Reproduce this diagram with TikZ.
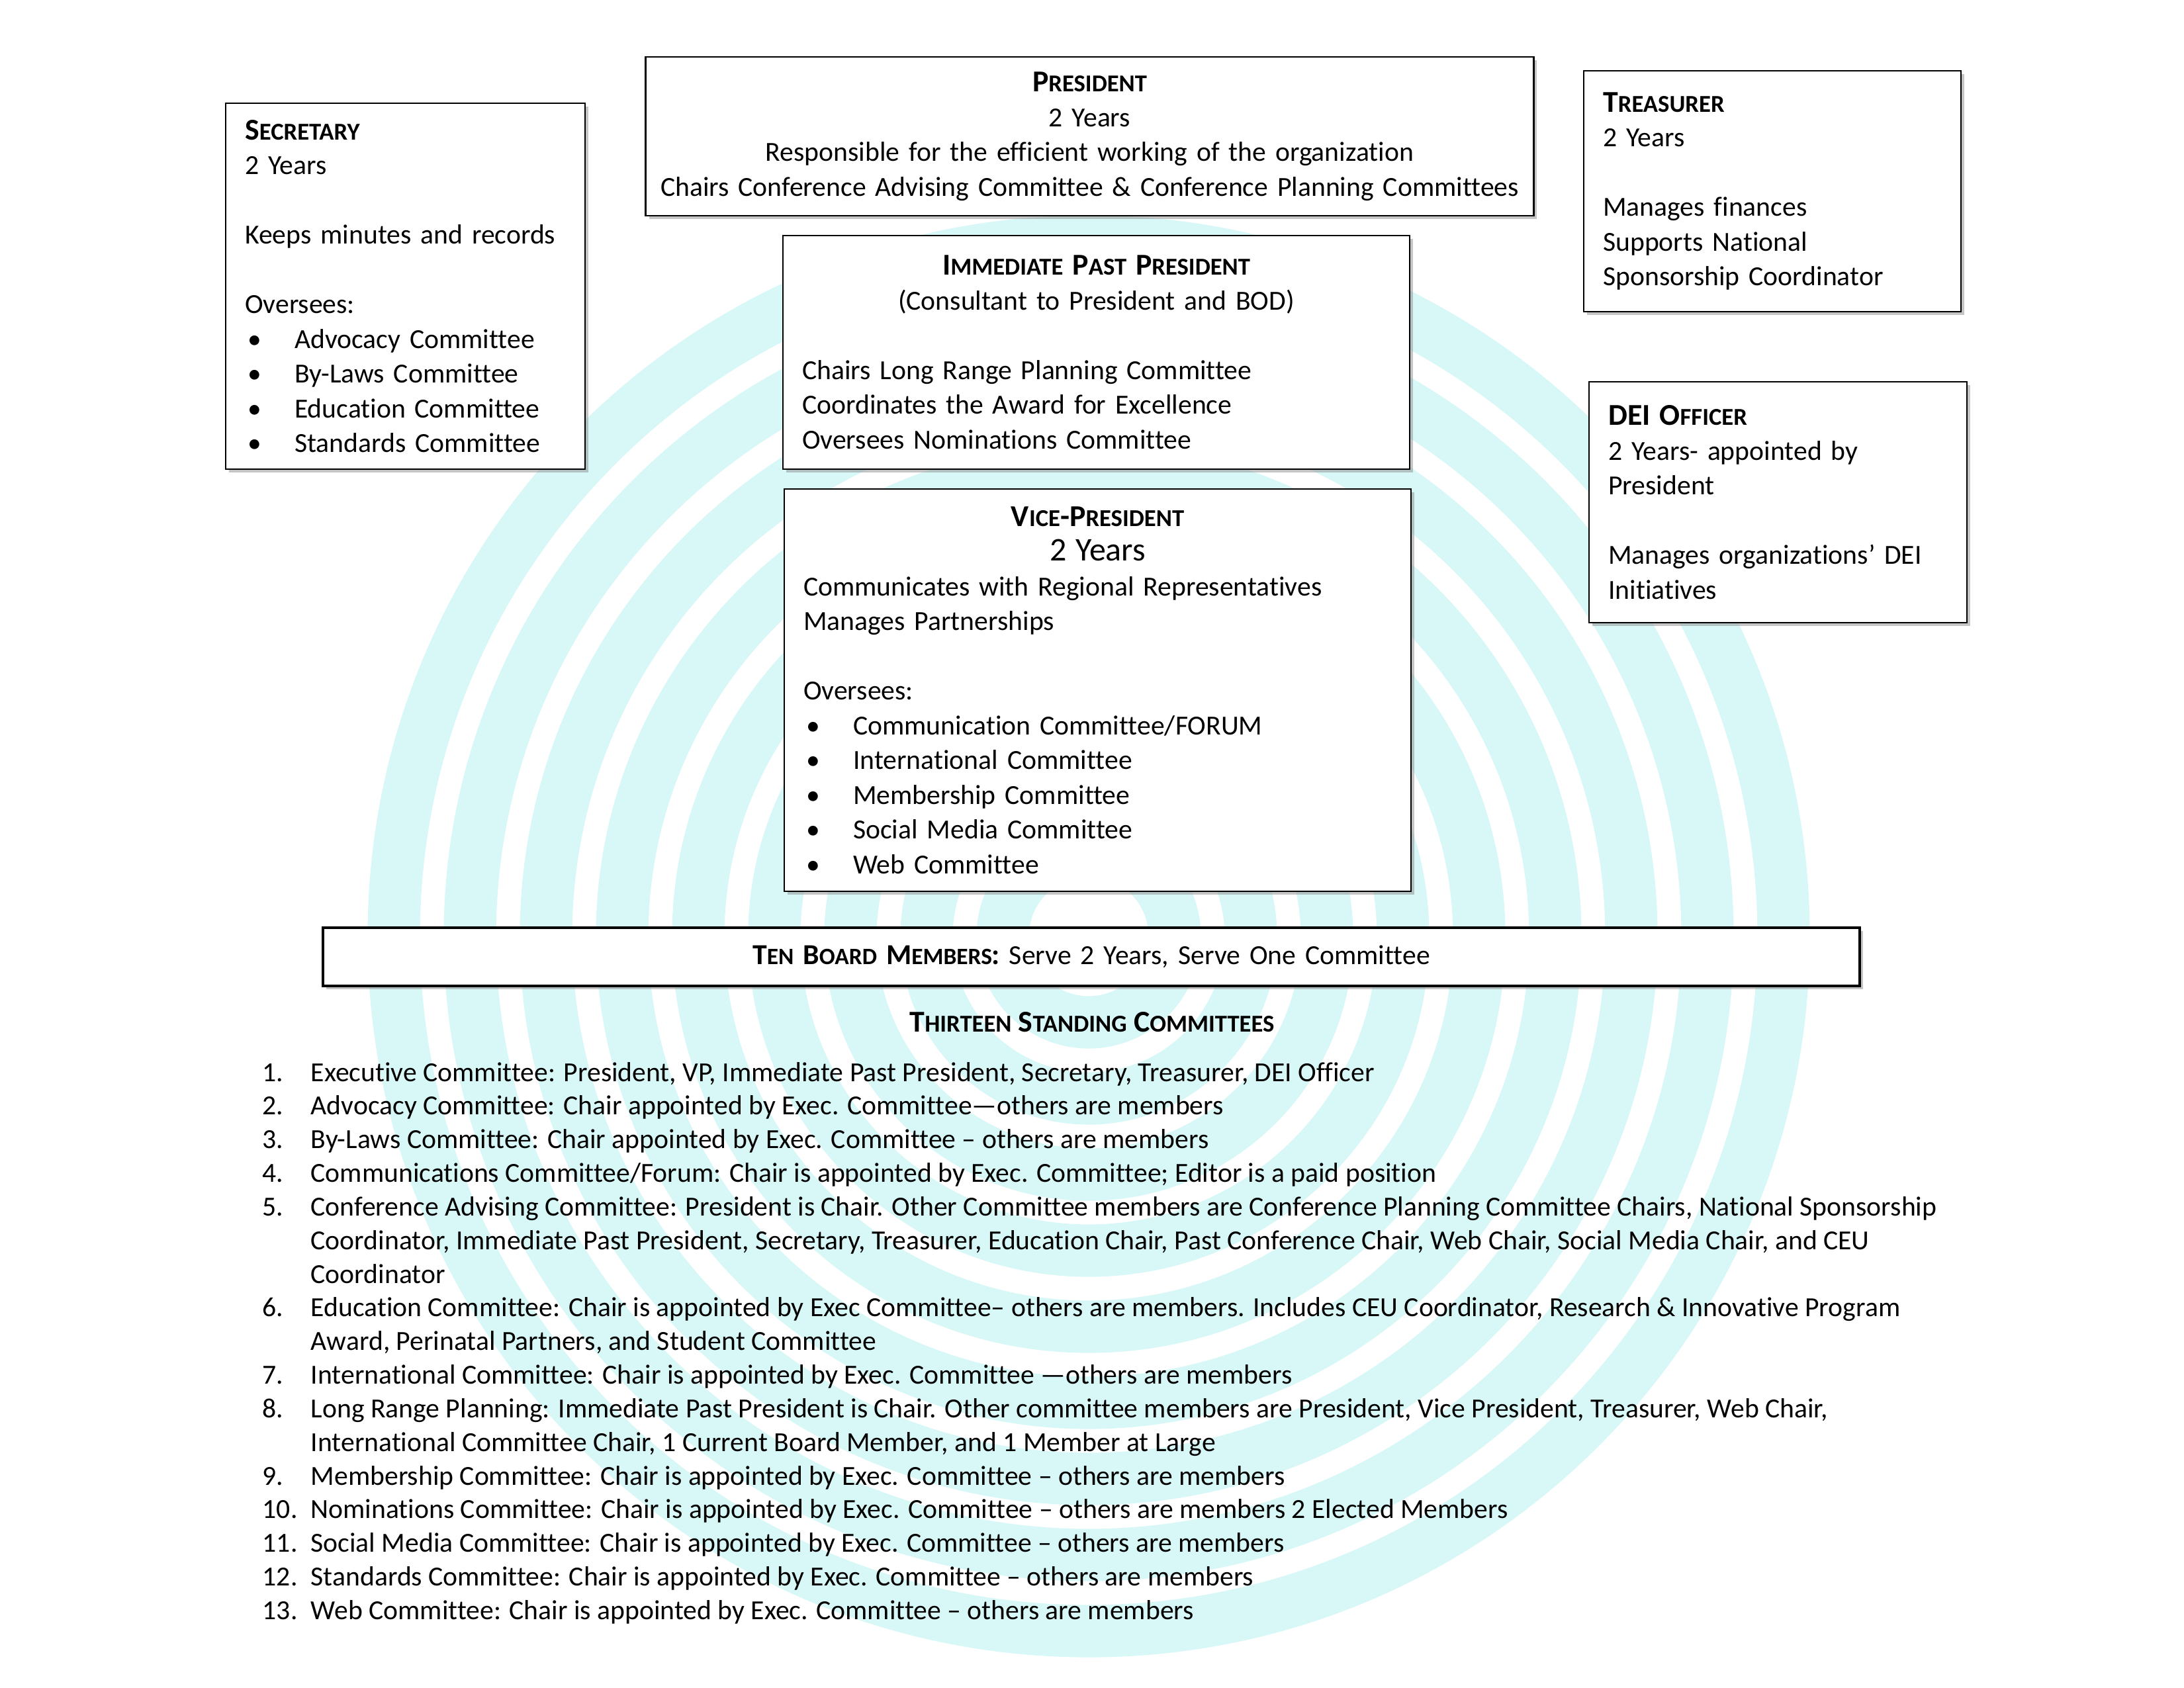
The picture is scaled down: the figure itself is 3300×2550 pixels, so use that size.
\documentclass[tikz,border=0pt]{standalone}
\usepackage{fontspec}
\setmainfont{Carlito}[Ligatures={NoCommon}]
\usetikzlibrary{shadows}

% small caps by hand, bullet and centred line
\newcommand{\hsc}[2]{#1{\fontsize{8.8}{8.8}\selectfont #2}}
\newcommand{\hd}{\fontsize{11}{12.6}\selectfont\bfseries}
\newcommand{\blt}{\makebox[18pt][l]{\hspace{1pt}\textbullet}}
\newcommand{\ctrline}[2]{\makebox[#1][c]{#2}}
\newcommand{\bl}{12.6pt}

\begin{document}
\begin{tikzpicture}[
    x=0.24pt, y=-0.24pt,
    font=\fontsize{10}{12.6}\selectfont,
    box/.style={draw, fill=white, line width=0.6pt, rectangle, align=left,
                inner xsep=7pt, inner ysep=1pt,
                drop shadow={shadow xshift=1.2pt, shadow yshift=-1.2pt,
                             fill=black!45}},
    ring/.style={draw=wmark, line width=19pt},
  ]
  \definecolor{wmark}{HTML}{D8F8F8}

  % ========================= FONDO ===========================
  \fill[white] (0,0) rectangle (3300,2550);
  \foreach \r in {130,245,...,1050}
    \draw[ring] (1645,1415) circle[radius=\r];

  % ======================== OFICIALES ========================
  \node[box, text width=116.3pt, minimum height=132.7pt] (sec) at (612.5,432.5) {%
    {\hd\hsc{S}{ECRETARY}}\\
    2 Years\\[\bl]
    Keeps minutes and records\\[\bl]
    Oversees:\\
    \blt Advocacy Committee\\
    \blt By-Laws Committee\\
    \blt Education Committee\\
    \blt Standards Committee};

  \node[box, align=center, inner xsep=2pt, text width=318pt, minimum height=57.6pt] (pres) at (1646.5,206) {%
    {\hd\hsc{P}{RESIDENT}}\\
    2 Years\\
    Responsible for the efficient working of the organization\\
    Chairs Conference Advising Committee \& Conference Planning Committees};

  \node[box, text width=122.8pt, minimum height=87.4pt] (tre) at (2678,289) {%
    {\hd\hsc{T}{REASURER}}\\
    2 Years\\[\bl]
    Manages finances\\
    Supports National\\
    Sponsorship Coordinator};

  \node[box, text width=213.3pt, minimum height=84.7pt] (ipp) at (1656.5,532.5) {%
    \ctrline{213.3pt}{\hd\hsc{I}{MMEDIATE} \hsc{P}{AST} \hsc{P}{RESIDENT}}\\
    \ctrline{213.3pt}{(Consultant to President and BOD)}\\[\bl]
    Chairs Long Range Planning Committee\\
    Coordinates the Award for Excellence\\
    Oversees Nominations Committee};

  \node[box, text width=213.3pt, minimum height=145.9pt] (vp) at (1658.5,1043) {%
    \ctrline{213.3pt}{\hd\hsc{V}{ICE}-\hsc{P}{RESIDENT}}\\
    \ctrline{213.3pt}{\fontsize{12}{12.6}\selectfont 2 Years}\\
    Communicates with Regional Representatives\\
    Manages Partnerships\\[\bl]
    Oversees:\\
    \blt Communication Committee/FORUM\\
    \blt International Committee\\
    \blt Membership Committee\\
    \blt Social Media Committee\\
    \blt Web Committee};

  \node[box, text width=123pt, minimum height=87.4pt] (dei) at (2686.5,759) {%
    {\hd DEI \hsc{O}{FFICER}}\\
    2 Years- appointed by\\
    President\\[\bl]
    Manages organizations’ DEI\\
    Initiatives};

  % ========================== JUNTA ==========================
  \node[box, align=center, line width=0.9pt, text width=543.3pt,
        minimum height=21.1pt] (board) at (1649,1446) {%
    {\fontsize{10.5}{12.3}\selectfont\bfseries T{\fontsize{8.5}{8.5}\selectfont EN}
     B{\fontsize{8.5}{8.5}\selectfont OARD} M{\fontsize{8.5}{8.5}\selectfont EMBERS}:}
    Serve 2 Years, Serve One Committee};

  % ======================== COMITES ==========================
  \node[font=\hd] (stand) at (1650,1545)
    {\hsc{T}{HIRTEEN} \hsc{S}{TANDING} \hsc{C}{OMMITTEES}};

  \node[anchor=base west, inner sep=0pt, font=\fontsize{10}{12.2}\selectfont] (list) at (396,1634) {%
    \begin{tabular}[t]{@{}p{17.5pt}@{}l@{}}
    1. & Executive Committee: President, VP, Immediate Past President, Secretary, Treasurer, DEI Officer\\
    2. & Advocacy Committee: Chair appointed by Exec. Committee—others are members\\
    3. & By-Laws Committee: Chair appointed by Exec. Committee – others are members\\
    4. & Communications Committee/Forum: Chair is appointed by Exec. Committee; Editor is a paid position\\
    5. & Conference Advising Committee: President is Chair. Other Committee members are Conference Planning Committee Chairs, National Sponsorship\\
       & Coordinator, Immediate Past President, Secretary, Treasurer, Education Chair, Past Conference Chair, Web Chair, Social Media Chair, and CEU\\
       & Coordinator\\
    6. & Education Committee: Chair is appointed by Exec Committee– others are members. Includes CEU Coordinator, Research \& Innovative Program\\
       & Award, Perinatal Partners, and Student Committee\\
    7. & International Committee: Chair is appointed by Exec. Committee —others are members\\
    8. & Long Range Planning: Immediate Past President is Chair. Other committee members are President, Vice President, Treasurer, Web Chair,\\
       & International Committee Chair, 1 Current Board Member, and 1 Member at Large\\
    9. & Membership Committee: Chair is appointed by Exec. Committee – others are members\\
    10. & Nominations Committee: Chair is appointed by Exec. Committee – others are members 2 Elected Members\\
    11. & Social Media Committee: Chair is appointed by Exec. Committee – others are members\\
    12. & Standards Committee: Chair is appointed by Exec. Committee – others are members\\
    13. & Web Committee: Chair is appointed by Exec. Committee – others are members
    \end{tabular}};
\end{tikzpicture}
\end{document}
